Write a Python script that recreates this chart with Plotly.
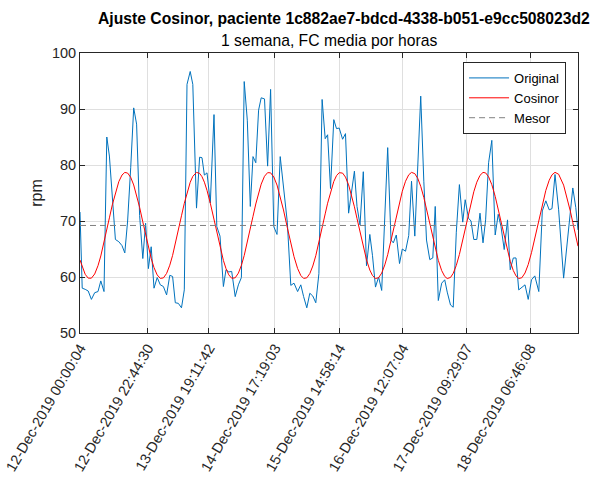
import datetime as dt
import numpy as np
import plotly.graph_objects as go

# Hourly mean heart rate: hours elapsed since the first sample, and rpm
horas = [
    0.00, 0.74, 1.74, 2.75, 3.82, 4.92, 6.03, 6.97, 8.04, 8.98,
    9.85, 10.82, 11.86, 13.00, 14.07, 15.01, 15.95, 16.99, 17.99, 18.96,
    19.97, 21.04, 21.98, 22.91, 23.85, 24.79, 25.86, 26.90, 27.94, 29.01,
    30.08, 31.02, 31.93, 32.93, 34.00, 34.94, 35.85, 36.92, 37.79, 39.03,
    40.07, 40.87, 41.67, 42.55, 43.65, 44.89, 45.83, 46.90, 48.04, 48.91,
    49.85, 50.82, 51.99, 53.06, 54.07, 55.01, 56.05, 57.05, 57.96, 58.89,
    59.83, 60.70, 61.81, 62.85, 63.85, 64.92, 66.00, 67.07, 68.17, 69.45,
    70.62, 71.69, 72.90, 73.97, 74.91, 75.98, 76.99, 77.99, 78.99, 80.03,
    81.11, 82.14, 82.95, 83.92, 85.02, 85.93, 86.83, 87.97, 88.94, 89.98,
    90.92, 91.93, 92.80, 93.80, 94.91, 95.98, 97.09, 97.99, 98.99, 100.03,
    101.07, 102.11, 103.08, 104.19, 104.96, 105.96, 107.04, 107.97, 109.05, 110.12,
    111.06, 112.16, 113.17, 114.14, 115.18, 116.08, 117.18, 118.19, 119.00, 120.03,
    121.17, 122.18, 123.02, 124.12, 125.03, 126.06, 127.10, 128.21, 129.04, 130.15,
    130.99, 131.92, 132.93, 134.00, 135.01, 135.88, 136.88, 137.96, 139.09, 140.10,
    141.04, 142.11, 143.22, 144.12, 145.16, 146.06, 146.97, 148.00, 149.08, 150.15,
    151.25, 152.36, 153.70, 154.87, 156.05, 157.18, 158.12, 159.13, 160.34, 162.01,
    163.15, 164.25, 165.09, 166.09, 166.83,
]
fc = [
    71.6, 58.0, 57.8, 57.5, 56.0, 57.2, 57.4, 59.3, 57.4, 85.0,
    81.6, 73.5, 66.7, 66.3, 65.6, 64.3, 70.0, 79.6, 90.2, 87.3,
    71.0, 63.3, 69.6, 61.5, 65.4, 58.0, 59.9, 58.6, 58.3, 56.8,
    60.3, 60.1, 55.4, 55.3, 54.5, 57.7, 94.4, 96.7, 94.4, 72.3,
    81.4, 81.3, 78.2, 78.6, 73.2, 89.0, 69.0, 67.3, 58.3, 61.3,
    60.9, 61.0, 56.5, 58.6, 59.9, 94.9, 88.0, 72.6, 81.5, 80.4,
    89.8, 92.0, 91.8, 79.8, 93.5, 69.0, 67.6, 81.5, 75.6, 69.8,
    58.5, 58.9, 57.4, 58.6, 56.5, 54.5, 57.1, 56.6, 55.4, 60.6,
    91.7, 84.7, 85.4, 75.8, 88.1, 86.5, 86.6, 84.6, 85.6, 71.4,
    75.0, 78.9, 72.6, 69.3, 78.8, 62.0, 67.6, 63.8, 58.2, 60.0,
    57.6, 72.0, 83.1, 66.6, 66.1, 67.5, 62.4, 65.0, 64.6, 67.4,
    77.1, 67.3, 80.0, 92.3, 77.1, 66.6, 63.1, 63.4, 72.6, 55.8,
    58.9, 59.5, 57.3, 55.0, 54.6, 68.0, 76.5, 69.8, 73.8, 70.5,
    70.0, 66.7, 66.7, 71.4, 66.1, 70.2, 80.4, 84.4, 67.5, 71.2,
    69.0, 64.9, 70.2, 61.3, 63.4, 63.4, 57.7, 58.1, 58.6, 56.0,
    59.5, 60.2, 57.4, 71.8, 73.6, 72.0, 72.2, 78.3, 72.0, 59.8,
    66.0, 71.5, 75.9, 72.4, 68.4,
]

# Fitted cosinor parameters (24 h period)
MESOR = 69.2
AMPLITUD = 9.5
ACROFASE_H = 15.3   # hours after the first sample
PERIODO_H = 24.0

# Tick positions are sample timestamps, labelled in dd-MMM-yyyy HH:mm:ss
ticks = [
    "2019-12-12 00:00:04", "2019-12-12 22:44:30", "2019-12-13 19:11:42",
    "2019-12-14 17:19:03", "2019-12-15 14:58:14", "2019-12-16 12:07:04",
    "2019-12-17 09:29:07", "2019-12-18 06:46:08",
]
tick_labels = [
    "12-Dec-2019 00:00:04", "12-Dec-2019 22:44:30", "13-Dec-2019 19:11:42",
    "14-Dec-2019 17:19:03", "15-Dec-2019 14:58:14", "16-Dec-2019 12:07:04",
    "17-Dec-2019 09:29:07", "18-Dec-2019 06:46:08",
]

inicio = dt.datetime(2019, 12, 12, 0, 0, 4)
t = [inicio + dt.timedelta(hours=h) for h in horas]
h_arr = np.array(horas)
cosinor = MESOR + AMPLITUD * np.cos(2 * np.pi * (h_arr - ACROFASE_H) / PERIODO_H)

FONT = "Liberation Sans, Arial, Helvetica, sans-serif"
AXIS_COLOR = "#262626"
GRID_COLOR = "#dfdfdf"

fig = go.Figure()
fig.add_trace(go.Scatter(x=t, y=fc, mode="lines", name="Original",
                         line=dict(color="#0072BD", width=1)))
fig.add_trace(go.Scatter(x=t, y=cosinor, mode="lines", name="Cosinor",
                         line=dict(color="#FF0000", width=1)))
fig.add_trace(go.Scatter(x=[t[0], t[-1]], y=[MESOR, MESOR], mode="lines", name="Mesor",
                         line=dict(color="#808080", width=1, dash="6px,4px")))

fig.update_layout(
    width=596, height=481,
    margin=dict(l=80, r=18, t=53, b=148),
    paper_bgcolor="white", plot_bgcolor="white",
    font=dict(family=FONT, size=14, color=AXIS_COLOR),
    showlegend=True,
    legend=dict(x=0.976, y=0.968, xanchor="right", yanchor="top",
                bgcolor="white", bordercolor=AXIS_COLOR, borderwidth=1,
                font=dict(family=FONT, size=13, color="black"),
                tracegroupgap=0, itemwidth=40),
    annotations=[
        dict(text="<b>Ajuste Cosinor, paciente 1c882ae7-bdcd-4338-b051-e9cc508023d2</b>",
             xref="paper", yref="paper", x=0.53, y=1.0, yshift=24,
             xanchor="center", yanchor="bottom", showarrow=False,
             font=dict(family=FONT, size=15.7, color="black")),
        dict(text="1 semana, FC media por horas",
             xref="paper", yref="paper", x=0.5, y=1.0, yshift=2,
             xanchor="center", yanchor="bottom", showarrow=False,
             font=dict(family=FONT, size=15.7, color="black")),
    ],
)

fig.update_xaxes(
    type="date", range=[t[0], t[-1]], automargin=False,
    tickmode="array", tickvals=ticks, ticktext=tick_labels, tickangle=-60,
    ticks="inside", ticklen=5, tickcolor=AXIS_COLOR,
    showline=True, linecolor=AXIS_COLOR, linewidth=1, mirror="ticks",
    showgrid=True, gridcolor=GRID_COLOR, gridwidth=1, zeroline=False,
    tickfont=dict(family=FONT, size=14.5, color=AXIS_COLOR),
)
fig.update_yaxes(
    range=[50, 100], tickmode="array", tickvals=[50, 60, 70, 80, 90, 100],
    automargin=False,
    ticks="inside", ticklen=5, tickcolor=AXIS_COLOR,
    showline=True, linecolor=AXIS_COLOR, linewidth=1, mirror="ticks",
    showgrid=True, gridcolor=GRID_COLOR, gridwidth=1, zeroline=False,
    tickfont=dict(family=FONT, size=14.5, color=AXIS_COLOR),
    title=dict(text="rpm", font=dict(family=FONT, size=16, color=AXIS_COLOR), standoff=5),
)

fig.write_html("out.html")
